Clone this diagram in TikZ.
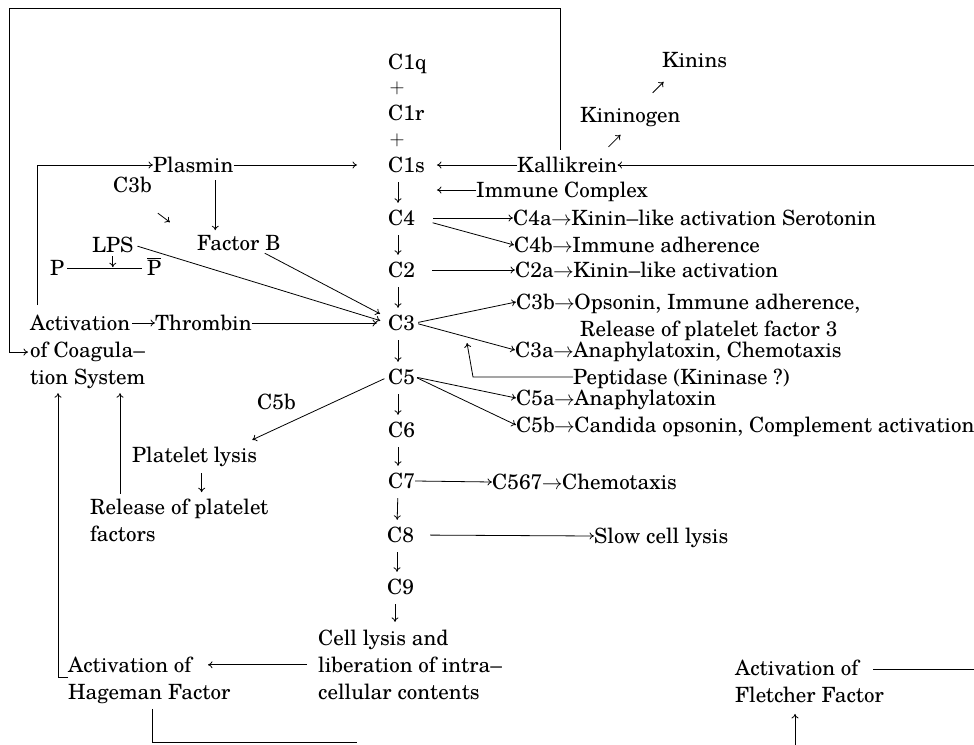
\documentclass[tikz,border=0pt]{standalone}
\usepackage{fontspec}
\setmainfont{texgyreschola-regular.otf}
\usetikzlibrary{arrows.meta}
\newcommand{\myra}{\kern-0.5pt$\rightarrow$\kern-0.5pt}
\begin{document}
\begin{tikzpicture}[x=1pt,y=-1pt,
  font=\fontsize{21}{27}\selectfont,
  lbl/.style={inner sep=0pt, anchor=west, text height=14pt, text depth=0pt},
  ml/.style={inner sep=0pt, anchor=north west, align=left},
  con/.style={line width=0.8pt},
  arr/.style={con, -{To[length=4.5pt,width=7pt]}},
  darr/.style={arr, shorten <=10pt, shorten >=8pt},
]
\useasboundingbox (0,0) rectangle (974,744);

% central chain
\node[lbl] (c1q) at (388,62) {C1q};
\node[inner sep=0pt] (p1) at (397,88) {$+$};
\node[lbl] (c1r) at (388,113) {C1r};
\node[inner sep=0pt] (p2) at (397,140) {$+$};
\node[lbl] (c1s) at (388,165) {C1s};
\node[lbl] (c4) at (388,218) {C4};
\node[lbl] (c2) at (388,270) {C2};
\node[lbl] (c3) at (388,323) {C3};
\node[lbl] (c5) at (388,377) {C5};
\node[lbl] (c6) at (388,430) {C6};
\node[lbl] (c7) at (388,481) {C7};
\node[lbl] (c8) at (387,535) {C8};
\node[lbl] (c9) at (387,587) {C9};
\node[ml] (lysis) at (318,629.7) {Cell lysis and\\liberation of intra--\\cellular contents};

% right side
\node[lbl] (kinins) at (662,60) {Kinins};
\node[lbl] (kng) at (580,115) {Kininogen};
\node[lbl] (kall) at (517,165) {Kallikrein};
\node[lbl] (imm) at (476,190) {Immune Complex};
\node[lbl] (c4a) at (513,218) {C4a\myra Kinin--like activation Serotonin};
\node[lbl] (c4b) at (514,245) {C4b\myra Immune adherence};
\node[lbl] (c2a) at (515,270) {C2a\myra Kinin--like activation};
\node[ml] (c3b) at (516,293.7) {C3b\myra Opsonin, Immune adherence,\\\hspace*{64pt}Release of platelet factor 3};
\node[lbl] (c3a) at (515,350) {C3a\myra Anaphylatoxin, Chemotaxis};
\node[lbl] (pept) at (573,377) {Peptidase (Kininase ?)};
\node[lbl] (c5a) at (516,398) {C5a\myra Anaphylatoxin};
\node[lbl] (c5b) at (516,425) {C5b\myra Candida opsonin, Complement activation};
\node[lbl] (c567) at (492,482) {C567\myra Chemotaxis};
\node[lbl] (slow) at (594,536) {Slow cell lysis};

% left side
\node[lbl] (plasmin) at (153,165) {Plasmin};
\node[lbl] (c3bl) at (113,185) {C3b};
\node[lbl] (lps) at (92,245) {LPS};
\node[lbl] (fb) at (197,243) {Factor B};
\node[lbl] (P) at (50,268) {P};
\node[lbl] (pbar) at (147,268) {$\overline{\mathrm{P}}$};
\node[ml] (coag) at (30,315) {Activation\\of Coagula--\\tion System};
\node[lbl] (thr) at (155,323) {Thrombin};
\node[lbl] (c5bl) at (257,402) {C5b};
\node[lbl] (plys) at (132,455) {Platelet lysis};
\node[ml] (rel) at (90,498.7) {Release of platelet\\factors};
\node[ml] (hag) at (68,656.7) {Activation of\\Hageman Factor};
\node[ml] (flet) at (735,659.7) {Activation of\\Fletcher Factor};

\coordinate (tl) at (9,8);
\coordinate (kr) at (974,165);

% top loop: Kallikrein -> coagulation
\draw[arr, shorten >=2pt] ([xshift=43pt,yshift=8pt]kall.north west) |- (tl) |- (coag.west);
% coagulation -> plasmin
\draw[arr] ([xshift=7pt,yshift=10pt]coag.north west) |- (plasmin.west);
\draw[arr, shorten >=31pt] (plasmin.east) -- (c1s.west);
\draw[arr, shorten >=12pt] (kall.west) -- (c1s.east);
\draw[arr] (kr) -- (kall.east);
\draw[arr] ([xshift=-9pt,yshift=11pt]kall.north east) -- ++(12pt,12pt);
\draw[arr] ([xshift=-28pt,yshift=15pt]kng.north east) -- ++(11pt,11pt);
\draw[arr, shorten >=12pt] (imm.west) -- (imm.west -| c1s.east);

% branches
\draw[arr, shorten <=18pt] (c4.east) -- (c4a.west);
\draw[arr, shorten <=18pt] (c4.east) -- (c4b.west);
\draw[arr, shorten <=17pt] (c2.east) -- (c2a.west);
\draw[arr, shorten <=3pt] (c3.east) -- ([yshift=-8.3pt]c3b.north west);
\draw[arr, shorten <=3pt] (c3.east) -- (c3a.west);
\draw[arr] (pept.west) -- ++(-100pt,0pt) -- ++(-6pt,34pt);
\draw[arr, shorten <=2pt] (c5.east) -- (c5a.west);
\draw[arr, shorten <=2pt] (c5.east) -- (c5b.west);
\draw[arr, shorten <=4pt] (c5.west) -- ([xshift=-5pt,yshift=8pt]plys.north east);
\draw[arr] (c7.east) -- (c567.west);
\draw[arr, shorten <=16pt] (c8.east) -- (slow.west);

% vertical chain
\foreach \a/\b in {c1s/c4, c4/c2, c2/c3, c3/c5, c5/c6, c6/c7, c7/c8, c8/c9}
  \draw[darr] ([xshift=10pt]\a.south west) -- ([xshift=10pt]\b.north west);
\draw[darr] ([xshift=8pt]c9.south west) -- ++(0pt,-35.7pt);

% left inputs
\draw[arr, shorten <=4pt, shorten >=8pt] (lps.east) -- (c3.west);
\draw[arr, shorten >=9pt] ([xshift=-16pt,yshift=-3pt]fb.south east) -- ([yshift=5pt]c3.west);
\draw[arr, shorten >=11pt] (thr.east) -- (c3.west);
\draw[arr] (thr.west) ++(-23pt,0pt) -- (thr.west);
\draw[arr] ([yshift=-4pt]lps.south) -- ([yshift=-15pt]lps.south);
\draw[con, shorten <=3pt, shorten >=5pt] (P.east) -- (pbar.west);
\draw[arr] ([xshift=6pt,yshift=-21pt]c3bl.south east) -- ++(12pt,-9pt);
\draw[arr] (plasmin.south) ++(22pt,-8pt) -- ++(0pt,-50pt);

% platelets and coagulation
\draw[arr] (plys.south) ++(7pt,-11pt) -- ++(0pt,-19pt);
\draw[arr] ([xshift=30pt,yshift=5pt]rel.north west) -- ([xshift=90pt,yshift=-4pt]coag.south west);
\draw[arr] ([yshift=3pt]hag.west) -| ([xshift=28pt,yshift=-4pt]coag.south west);
\draw[arr] (lysis.west) ++(-11pt,0pt) -- ++(-99pt,0pt);
\draw[con] ([xshift=3pt,yshift=-5pt]hag.south) -- ++(0pt,-34pt) -- ++(205pt,0pt);
\draw[arr] ([xshift=60pt,yshift=-42pt]flet.south west) -- ([xshift=60pt,yshift=-11pt]flet.south west);
\draw[con] ([xshift=138pt,yshift=-9.3pt]flet.north west) -- ++(101pt,0pt);
\end{tikzpicture}
\end{document}
